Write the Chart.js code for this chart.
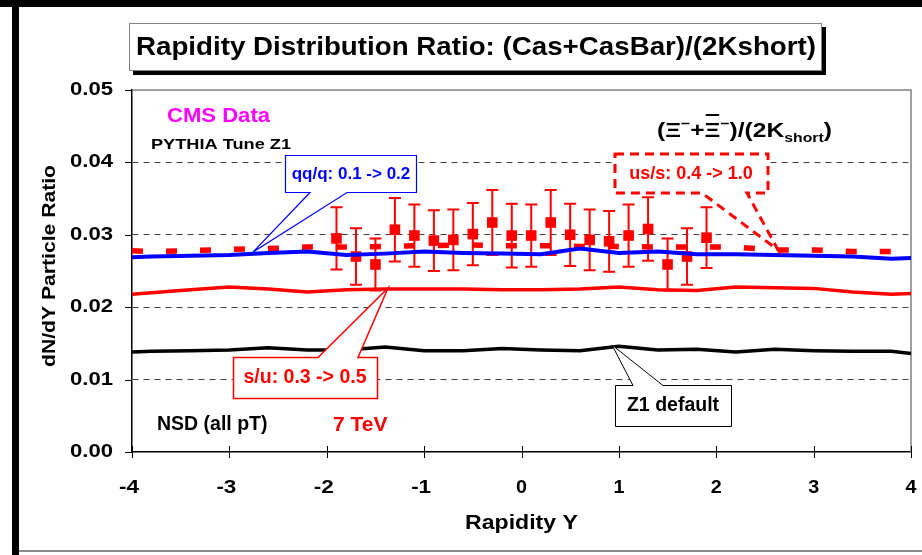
<!DOCTYPE html>
<html>
<head>
<meta charset="utf-8">
<script src="https://cdn.jsdelivr.net/npm/chart.js@4.4.0/dist/chart.umd.min.js"></script>
<style>
  html, body { margin: 0; padding: 0; background: #fff; }
  canvas { display: block; }
</style>
</head>
<body>
<canvas id="ratio-chart" width="922" height="555"></canvas>
<script>
// PYTHIA curves, all on the same rapidity grid
const modelRapidity = [-4, -3.8, -3.4, -3.0, -2.6, -2.2, -1.8, -1.4, -1.0, -0.6, -0.2, 0.2, 0.6, 1.0, 1.4, 1.8, 2.2, 2.6, 3.0, 3.4, 3.8, 4];
const z1Default = [0.0138, 0.0139, 0.0140, 0.0141, 0.0144, 0.0141, 0.0141, 0.0145, 0.0140, 0.0140, 0.0143, 0.0141, 0.0140, 0.0146, 0.0141, 0.0142, 0.0138, 0.0142, 0.0140, 0.0139, 0.0139, 0.0136];
const suTune = [0.0218, 0.0220, 0.0224, 0.0228, 0.0225, 0.0221, 0.0224, 0.0225, 0.0225, 0.0225, 0.0224, 0.0224, 0.0225, 0.0228, 0.0224, 0.0223, 0.0228, 0.0227, 0.0226, 0.0221, 0.0218, 0.0219];
const qqTune = [0.0269, 0.0270, 0.0271, 0.0272, 0.0275, 0.0277, 0.0272, 0.0274, 0.0277, 0.0275, 0.0274, 0.0273, 0.0281, 0.0275, 0.0277, 0.0273, 0.0273, 0.0272, 0.0271, 0.0270, 0.0267, 0.0268];
const ussTune = [0.0278, 0.0277, 0.0278, 0.0280, 0.0281, 0.0283, 0.0283, 0.0284, 0.0285, 0.0286, 0.0285, 0.0285, 0.0284, 0.0284, 0.0283, 0.0283, 0.0283, 0.0279, 0.0279, 0.0277, 0.0277, 0.0274];

// CMS data points
const cmsRapidity = [-1.9, -1.7, -1.5, -1.3, -1.1, -0.9, -0.7, -0.5, -0.3, -0.1, 0.1, 0.3, 0.5, 0.7, 0.9, 1.1, 1.3, 1.5, 1.7, 1.9];
const cmsRatio = [0.0295, 0.0270, 0.0259, 0.0307, 0.0299, 0.0292, 0.0293, 0.0301, 0.0317, 0.0299, 0.0299, 0.0317, 0.0300, 0.0293, 0.0291, 0.0299, 0.0308, 0.0259, 0.0270, 0.0296];
const cmsError = [0.0043, 0.0039, 0.0036, 0.0044, 0.0043, 0.0042, 0.0042, 0.0043, 0.0045, 0.0044, 0.0043, 0.0045, 0.0043, 0.0042, 0.0042, 0.0043, 0.0044, 0.0036, 0.0039, 0.0042];

const xTickValues = [-4, -3, -2, -1, 0, 1, 2, 3, 4];
const yTickValues = [0, 0.01, 0.02, 0.03, 0.04, 0.05];

const FONT = '"Liberation Sans", Arial, sans-serif';
const chartEl = document.getElementById("ratio-chart");

function toPoints(xs, ys) {
    return xs.map((x, i) => ({ x: x, y: ys[i] }));
}

// text drawn with an optional width so it can be stretched like the original
function drawText(ctx, text, x, y, size, color, align, width) {
    ctx.save();
    ctx.font = "bold " + size + "px " + FONT;
    ctx.fillStyle = color;
    ctx.textBaseline = "middle";
    const natural = ctx.measureText(text).width;
    const sx = width ? width / natural : 1;
    const w = natural * sx;
    let left = x;
    if (align === "center") left = x - w / 2;
    if (align === "right") left = x - w;
    ctx.translate(left, y);
    ctx.scale(sx, 1);
    ctx.textAlign = "left";
    ctx.fillText(text, 0, 0);
    ctx.restore();
}

// box with a pointed tail, tail leaves from the top or bottom edge
function callout(ctx, box, tail, tip, color, lineWidth, dash) {
    const [x1, y1, x2, y2] = box;
    ctx.save();
    ctx.beginPath();
    if (tip[1] > y2) {
        ctx.moveTo(x1, y1);
        ctx.lineTo(x2, y1);
        ctx.lineTo(x2, y2);
        ctx.lineTo(tail[1], y2);
        ctx.lineTo(tip[0], tip[1]);
        ctx.lineTo(tail[0], y2);
        ctx.lineTo(x1, y2);
    } else {
        ctx.moveTo(x1, y1);
        ctx.lineTo(tail[0], y1);
        ctx.lineTo(tip[0], tip[1]);
        ctx.lineTo(tail[1], y1);
        ctx.lineTo(x2, y1);
        ctx.lineTo(x2, y2);
        ctx.lineTo(x1, y2);
    }
    ctx.closePath();
    ctx.fillStyle = "#fff";
    ctx.fill();
    ctx.strokeStyle = color;
    ctx.lineWidth = lineWidth;
    ctx.setLineDash(dash || []);
    ctx.stroke();
    ctx.restore();
}

const decorPlugin = {
    id: "decor",
    beforeDraw(chart) {
        const ctx = chart.ctx;
        ctx.save();
        ctx.fillStyle = "#fff";
        ctx.fillRect(0, 0, chart.width, chart.height);
        ctx.restore();
    },
    beforeDatasetsDraw(chart) {
        const ctx = chart.ctx;
        const xs = chart.scales.x;
        const ys = chart.scales.y;
        const area = chart.chartArea;

        // plot frame on top and right
        ctx.save();
        ctx.strokeStyle = "#808080";
        ctx.lineWidth = 1.5;
        ctx.beginPath();
        ctx.moveTo(area.left, area.top);
        ctx.lineTo(area.right, area.top);
        ctx.lineTo(area.right, area.bottom);
        ctx.stroke();
        ctx.restore();

        // error bars for the CMS points
        ctx.save();
        ctx.strokeStyle = "#ff0000";
        ctx.lineWidth = 2;
        cmsRapidity.forEach((r, i) => {
            const px = xs.getPixelForValue(r);
            const top = ys.getPixelForValue(cmsRatio[i] + cmsError[i]);
            const bot = ys.getPixelForValue(cmsRatio[i] - cmsError[i]);
            ctx.beginPath();
            ctx.moveTo(px, top);
            ctx.lineTo(px, bot);
            ctx.moveTo(px - 6, top);
            ctx.lineTo(px + 6, top);
            ctx.moveTo(px - 6, bot);
            ctx.lineTo(px + 6, bot);
            ctx.stroke();
        });
        ctx.restore();
    },
    afterDraw(chart) {
        const ctx = chart.ctx;
        const xs = chart.scales.x;
        const ys = chart.scales.y;
        const area = chart.chartArea;

        // tick marks
        ctx.save();
        ctx.strokeStyle = "#000";
        ctx.lineWidth = 1;
        ctx.beginPath();
        ys.ticks.forEach((t) => {
            const py = Math.round(ys.getPixelForValue(t.value)) + 0.5;
            ctx.moveTo(area.left - 7, py);
            ctx.lineTo(area.left, py);
        });
        xs.ticks.forEach((t) => {
            const px = Math.round(xs.getPixelForValue(t.value)) + 0.5;
            ctx.moveTo(px, area.bottom - 6);
            ctx.lineTo(px, area.bottom + 6);
        });
        ctx.stroke();
        ctx.restore();

        // tick labels
        ys.ticks.forEach((t) => {
            drawText(ctx, t.value.toFixed(2), area.left - 19, ys.getPixelForValue(t.value), 18, "#000", "right", 43);
        });
        xs.ticks.forEach((t) => {
            const label = String(t.value);
            drawText(ctx, label, xs.getPixelForValue(t.value) - (t.value < 0 ? 3 : 0), 488, 18, "#000", "center", label.length > 1 ? 20 : 11);
        });

        // axis titles
        drawText(ctx, "Rapidity Y", (area.left + area.right) / 2, 523, 20, "#000", "center", 113);
        ctx.save();
        ctx.translate(50, 266);
        ctx.rotate(-Math.PI / 2);
        drawText(ctx, "dN/dY Particle Ratio", 0, 0, 19, "#000", "center", 202);
        ctx.restore();

        // outer frame
        ctx.save();
        ctx.fillStyle = "#000";
        ctx.fillRect(0, 0, 922, 7);
        ctx.fillRect(12, 0, 7, 555);
        ctx.strokeStyle = "#666";
        ctx.lineWidth = 1.5;
        ctx.beginPath();
        ctx.moveTo(19, 551);
        ctx.lineTo(922, 551);
        ctx.stroke();
        ctx.restore();

        // title box with shadow
        ctx.save();
        ctx.fillStyle = "#000";
        ctx.fillRect(133, 27, 693, 48);
        ctx.fillStyle = "#fff";
        ctx.fillRect(129, 23, 693, 48);
        ctx.strokeStyle = "#808080";
        ctx.lineWidth = 1;
        ctx.strokeRect(129.5, 23.5, 692, 47);
        ctx.restore();
        drawText(ctx, "Rapidity Distribution Ratio: (Cas+CasBar)/(2Kshort)", 476, 48, 25.5, "#000", "center", 680);

        // callouts
        callout(ctx, [285.5, 155.5, 416.5, 192.5], [310, 347], [253, 252], "#0000ff", 1.2);
        drawText(ctx, "qq/q: 0.1 -> 0.2", 351, 174, 17, "#0000ff", "center");

        callout(ctx, [615, 154, 768, 193], [702, 747], [778, 250], "#ff0000", 3, [9, 6]);
        drawText(ctx, "us/s: 0.4 -> 1.0", 691, 174, 18, "#ff0000", "center");

        callout(ctx, [233.5, 357.5, 377.5, 398.5], [318, 358], [388, 288], "#ff0000", 1.5);
        drawText(ctx, "s/u: 0.3 -> 0.5", 305, 378, 19.5, "#ff0000", "center");

        callout(ctx, [615.5, 385.5, 731.5, 426.5], [633, 663], [612, 345], "#000", 1);
        drawText(ctx, "Z1 default", 673, 406, 19.5, "#000", "center");

        // free labels
        drawText(ctx, "CMS Data", 167, 116, 20, "#ff00ff", "left", 103);
        drawText(ctx, "PYTHIA Tune Z1", 151, 145, 15, "#000", "left", 140);
        drawText(ctx, "NSD (all pT)", 157, 425, 19.5, "#000", "left");
        drawText(ctx, "7 TeV", 333, 425, 21, "#ff0000", "left");

        // (Xi- + Xibar-)/(2Kshort), stretched a little to the reference width
        ctx.save();
        ctx.fillStyle = "#000";
        ctx.textBaseline = "alphabetic";
        ctx.translate(657, 137);
        ctx.scale(1.17, 1);
        const big = "bold 21px " + FONT;
        const small = "bold 13.5px " + FONT;
        let x = 0;
        const put = (s, font, dy) => {
            ctx.font = font;
            ctx.fillText(s, x, dy);
            const w = ctx.measureText(s).width;
            x += w;
            return w;
        };
        put("(\u039E", big, 0);
        put("\u2212", small, -9);
        put("+", big, 0);
        const xiStart = x;
        const xiW = put("\u039E", big, 0);
        ctx.fillRect(xiStart + 1, -23, xiW - 2, 2);
        put("\u2212", small, -9);
        put(")/(2K", big, 0);
        put("short", small, 5);
        put(")", big, 0);
        ctx.restore();
    }
};

const ratioChart = new Chart(chartEl, {
    type: "scatter",
    data: {
        datasets: [
            {
                label: "qq/q: 0.1 -> 0.2",
                data: toPoints(modelRapidity, qqTune),
                showLine: true,
                borderColor: "#0000ff",
                borderWidth: 4,
                pointRadius: 0,
                tension: 0
            },
            {
                label: "us/s: 0.4 -> 1.0",
                data: toPoints(modelRapidity, ussTune),
                showLine: true,
                borderColor: "#ff0000",
                borderWidth: 5.5,
                borderDash: [11, 23],
                pointRadius: 0,
                tension: 0
            },
            {
                label: "s/u: 0.3 -> 0.5",
                data: toPoints(modelRapidity, suTune),
                showLine: true,
                borderColor: "#ff0000",
                borderWidth: 3.5,
                pointRadius: 0,
                tension: 0
            },
            {
                label: "Z1 default",
                data: toPoints(modelRapidity, z1Default),
                showLine: true,
                borderColor: "#000000",
                borderWidth: 3.5,
                pointRadius: 0,
                tension: 0
            },
            {
                label: "CMS Data",
                data: toPoints(cmsRapidity, cmsRatio),
                showLine: false,
                pointStyle: "rect",
                pointRadius: 7.5,
                backgroundColor: "#ff0000",
                borderColor: "#ff0000",
                borderWidth: 0
            }
        ]
    },
    options: {
        responsive: false,
        animation: false,
        layout: {
            padding: { left: 132, right: 11, top: 90, bottom: 103 }
        },
        plugins: {
            legend: { display: false },
            tooltip: { enabled: false },
            title: { display: false }
        },
        scales: {
            x: {
                type: "linear",
                min: -4,
                max: 4,
                afterBuildTicks: (scale) => {
                    scale.ticks = xTickValues.map((v) => ({ value: v }));
                },
                ticks: { display: false },
                grid: { display: false, drawTicks: false },
                border: { display: true, color: "#000", width: 1.5 }
            },
            y: {
                type: "linear",
                min: 0,
                max: 0.05,
                afterBuildTicks: (scale) => {
                    scale.ticks = yTickValues.map((v) => ({ value: v }));
                },
                ticks: { display: false },
                grid: {
                    drawTicks: false,
                    lineWidth: 1,
                    color: (c) => (c.tick && (c.tick.value === 0 || c.tick.value === 0.05)) ? "rgba(0,0,0,0)" : "#404040"
                },
                border: { display: true, color: "#000", width: 1.5, dash: [6, 5] }
            }
        }
    },
    plugins: [decorPlugin]
});
</script>
</body>
</html>
